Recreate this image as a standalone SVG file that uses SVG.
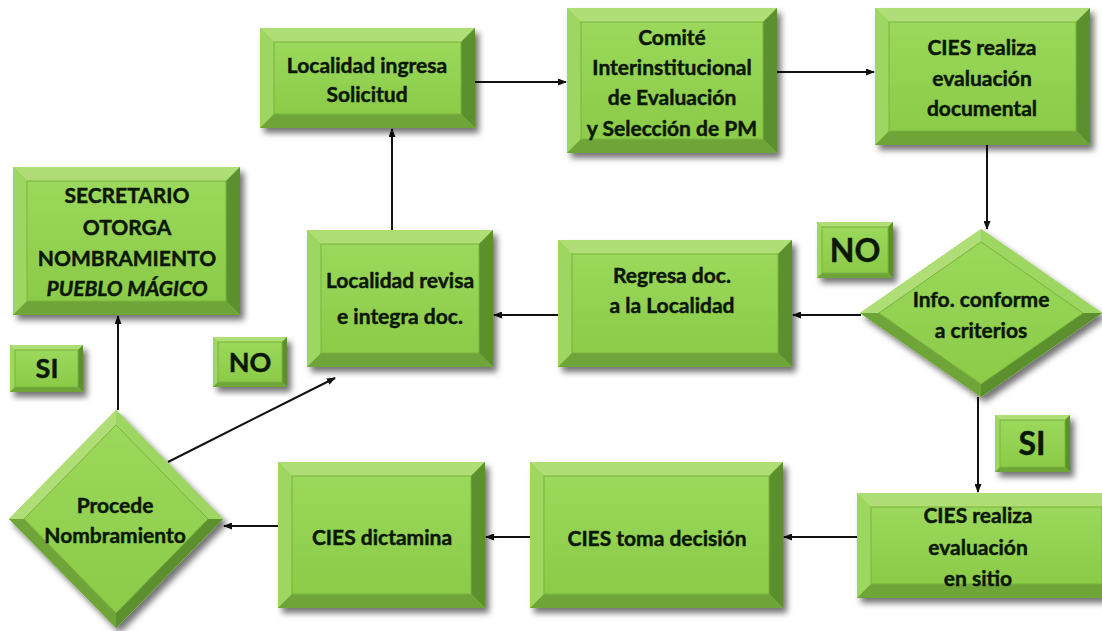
<svg xmlns="http://www.w3.org/2000/svg" width="1102" height="631" viewBox="0 0 1102 631">
<style>
.t{font-family:Lato,"Liberation Sans",sans-serif;font-weight:700;font-size:21px;fill:#0b1707;stroke:#0b1707;stroke-width:0.45px;text-anchor:middle}
.tb{font-size:27px}
.bt{fill:#aede74}
.bl{fill:#9dd661}
.br{fill:#5c8f2e}
.bb{fill:#6ea438}
.face{fill:url(#gface);stroke:#7ab43d;stroke-width:1}
.sh{filter:url(#shadow)}
.c{stroke:#111;stroke-width:2;fill:none;marker-end:url(#ah)}
</style>
<defs>
<linearGradient id="gface" x1="0" y1="0" x2="0" y2="1">
<stop offset="0" stop-color="#9bd85c"/>
<stop offset="1" stop-color="#8bcb48"/>
</linearGradient>
<filter id="shadow" x="-10%" y="-10%" width="125%" height="130%">
<feDropShadow dx="4" dy="5" stdDeviation="3" flood-color="#000" flood-opacity="0.55"/>
</filter>
<marker id="ah" markerUnits="userSpaceOnUse" markerWidth="9" markerHeight="7" refX="8" refY="3.5" orient="auto">
<path d="M0,0 L9,3.5 L0,7 z" fill="#111"/>
</marker>
</defs>
<rect width="1102" height="631" fill="#fff"/>

<g id="connectors">
<line class="c" x1="392" y1="230" x2="392" y2="129"/>
<line class="c" x1="475" y1="82" x2="566" y2="82"/>
<line class="c" x1="777" y1="72" x2="874" y2="72"/>
<line class="c" x1="987" y1="145" x2="987" y2="229"/>
<line class="c" x1="861" y1="315" x2="793" y2="315"/>
<line class="c" x1="558" y1="315" x2="494" y2="315"/>
<line class="c" x1="978" y1="397" x2="978" y2="492"/>
<line class="c" x1="857" y1="537" x2="784" y2="537"/>
<line class="c" x1="530" y1="537" x2="486" y2="537"/>
<line class="c" x1="278" y1="526" x2="224" y2="526"/>
<line class="c" x1="118" y1="410" x2="118" y2="316"/>
<line class="c" x1="168" y1="462" x2="335" y2="378"/>
</g>

<g id="n-ingresa">
<g class="sh"><rect x="260" y="28" width="215" height="100" fill="#8fcf4c"/>
<polygon class="bt" points="260,28 475,28 461,42 274,42"/><polygon class="bl" points="260,28 274,42 274,114 260,128"/><polygon class="br" points="475,28 475,128 461,114 461,42"/><polygon class="bb" points="260,128 475,128 461,114 274,114"/><rect class="face" x="274" y="42" width="187" height="72"/></g>
<text class="t"><tspan x="367" y="73">Localidad ingresa</tspan><tspan x="367" y="102">Solicitud</tspan></text>
</g>

<g id="n-comite">
<g class="sh"><rect x="567" y="8" width="210" height="145" fill="#8fcf4c"/>
<polygon class="bt" points="567,8 777,8 763,22 581,22"/><polygon class="bl" points="567,8 581,22 581,139 567,153"/><polygon class="br" points="777,8 777,153 763,139 763,22"/><polygon class="bb" points="567,153 777,153 763,139 581,139"/><rect class="face" x="581" y="22" width="182" height="117"/></g>
<text class="t"><tspan x="672" y="45">Comité</tspan><tspan x="672" y="75">Interinstitucional</tspan><tspan x="672" y="105">de Evaluación</tspan><tspan x="672" y="136">y Selección de PM</tspan></text>
</g>

<g id="n-ciesdoc">
<g class="sh"><rect x="875" y="8" width="215" height="137" fill="#8fcf4c"/>
<polygon class="bt" points="875,8 1090,8 1076,22 889,22"/><polygon class="bl" points="875,8 889,22 889,131 875,145"/><polygon class="br" points="1090,8 1090,145 1076,131 1076,22"/><polygon class="bb" points="875,145 1090,145 1076,131 889,131"/><rect class="face" x="889" y="22" width="187" height="109"/></g>
<text class="t"><tspan x="982" y="55">CIES realiza</tspan><tspan x="982" y="86">evaluación</tspan><tspan x="982" y="116">documental</tspan></text>
</g>

<g id="n-info">
<g class="sh"><polygon points="981,229 1102,313 981,397 860,313" fill="#8fcf4c"/>
<polygon class="bt" points="860,313 981,229 981,242 879,313"/><polygon class="bl" points="981,229 1102,313 1083,313 981,242"/><polygon class="br" points="1102,313 981,397 981,384 1083,313"/><polygon class="bb" points="981,397 860,313 879,313 981,384"/><polygon class="face" points="981,242 1083,313 981,384 879,313"/></g>
<text class="t"><tspan x="981" y="307">Info. conforme</tspan><tspan x="981" y="338">a criterios</tspan></text>
</g>

<g id="n-regresa">
<g class="sh"><rect x="558" y="240" width="234" height="127" fill="#8fcf4c"/>
<polygon class="bt" points="558,240 792,240 778,254 572,254"/><polygon class="bl" points="558,240 572,254 572,353 558,367"/><polygon class="br" points="792,240 792,367 778,353 778,254"/><polygon class="bb" points="558,367 792,367 778,353 572,353"/><rect class="face" x="572" y="254" width="206" height="99"/></g>
<text class="t"><tspan x="672" y="283">Regresa doc.</tspan><tspan x="672" y="313">a la Localidad</tspan></text>
</g>

<g id="n-revisa">
<g class="sh"><rect x="307" y="230" width="186" height="137" fill="#8fcf4c"/>
<polygon class="bt" points="307,230 493,230 479,244 321,244"/><polygon class="bl" points="307,230 321,244 321,353 307,367"/><polygon class="br" points="493,230 493,367 479,353 479,244"/><polygon class="bb" points="307,367 493,367 479,353 321,353"/><rect class="face" x="321" y="244" width="158" height="109"/></g>
<text class="t"><tspan x="400" y="288">Localidad revisa</tspan><tspan x="400" y="324">e integra doc.</tspan></text>
</g>

<g id="n-secretario">
<g class="sh"><rect x="13" y="167" width="227" height="148" fill="#8fcf4c"/>
<polygon class="bt" points="13,167 240,167 226,181 27,181"/><polygon class="bl" points="13,167 27,181 27,301 13,315"/><polygon class="br" points="240,167 240,315 226,301 226,181"/><polygon class="bb" points="13,315 240,315 226,301 27,301"/><rect class="face" x="27" y="181" width="199" height="120"/></g>
<text class="t"><tspan x="127" y="203">SECRETARIO</tspan><tspan x="127" y="235">OTORGA</tspan><tspan x="127" y="266">NOMBRAMIENTO</tspan><tspan x="127" y="296" font-style="italic">PUEBLO MÁGICO</tspan></text>
</g>

<g id="n-si-left">
<g class="sh"><rect x="10" y="345" width="73" height="47" fill="#8fcf4c"/>
<polygon class="bt" points="10,345 83,345 78,350 15,350"/><polygon class="bl" points="10,345 15,350 15,387 10,392"/><polygon class="br" points="83,345 83,392 78,387 78,350"/><polygon class="bb" points="10,392 83,392 78,387 15,387"/><rect class="face" x="15" y="350" width="63" height="37"/></g>
<text class="t tb" x="47" y="378">SI</text>
</g>

<g id="n-no-left">
<g class="sh"><rect x="213" y="337" width="74" height="50" fill="#8fcf4c"/>
<polygon class="bt" points="213,337 287,337 282,342 218,342"/><polygon class="bl" points="213,337 218,342 218,382 213,387"/><polygon class="br" points="287,337 287,387 282,382 282,342"/><polygon class="bb" points="213,387 287,387 282,382 218,382"/><rect class="face" x="218" y="342" width="64" height="40"/></g>
<text class="t tb" x="250" y="372">NO</text>
</g>

<g id="n-no-right">
<g class="sh"><rect x="817" y="222" width="76" height="56" fill="#8fcf4c"/>
<polygon class="bt" points="817,222 893,222 888,227 822,227"/><polygon class="bl" points="817,222 822,227 822,273 817,278"/><polygon class="br" points="893,222 893,278 888,273 888,227"/><polygon class="bb" points="817,278 893,278 888,273 822,273"/><rect class="face" x="822" y="227" width="66" height="46"/></g>
<text class="t tb" x="855" y="262" style="font-size:32px">NO</text>
</g>

<g id="n-si-right">
<g class="sh"><rect x="995" y="415" width="75" height="57" fill="#8fcf4c"/>
<polygon class="bt" points="995,415 1070,415 1065,420 1000,420"/><polygon class="bl" points="995,415 1000,420 1000,467 995,472"/><polygon class="br" points="1070,415 1070,472 1065,467 1065,420"/><polygon class="bb" points="995,472 1070,472 1065,467 1000,467"/><rect class="face" x="1000" y="420" width="65" height="47"/></g>
<text class="t tb" x="1032" y="455" style="font-size:32px">SI</text>
</g>

<g id="n-sitio">
<g class="sh"><rect x="857" y="493" width="259" height="105" fill="#8fcf4c"/>
<polygon class="bt" points="857,493 1116,493 1102,507 871,507"/><polygon class="bl" points="857,493 871,507 871,584 857,598"/><polygon class="br" points="1116,493 1116,598 1102,584 1102,507"/><polygon class="bb" points="857,598 1116,598 1102,584 871,584"/><rect class="face" x="871" y="507" width="231" height="77"/></g>
<text class="t"><tspan x="978" y="523">CIES realiza</tspan><tspan x="978" y="555">evaluación</tspan><tspan x="978" y="586">en sitio</tspan></text>
</g>

<g id="n-toma">
<g class="sh"><rect x="530" y="462" width="253" height="146" fill="#8fcf4c"/>
<polygon class="bt" points="530,462 783,462 769,476 544,476"/><polygon class="bl" points="530,462 544,476 544,594 530,608"/><polygon class="br" points="783,462 783,608 769,594 769,476"/><polygon class="bb" points="530,608 783,608 769,594 544,594"/><rect class="face" x="544" y="476" width="225" height="118"/></g>
<text class="t" x="657" y="546">CIES toma decisión</text>
</g>

<g id="n-dictamina">
<g class="sh"><rect x="278" y="462" width="207" height="146" fill="#8fcf4c"/>
<polygon class="bt" points="278,462 485,462 471,476 292,476"/><polygon class="bl" points="278,462 292,476 292,594 278,608"/><polygon class="br" points="485,462 485,608 471,594 471,476"/><polygon class="bb" points="278,608 485,608 471,594 292,594"/><rect class="face" x="292" y="476" width="179" height="118"/></g>
<text class="t" x="382" y="545">CIES dictamina</text>
</g>

<g id="n-procede">
<g class="sh"><polygon points="116,410 223,519 116,628 9,519" fill="#8fcf4c"/>
<polygon class="bt" points="9,519 116,410 116,425 24,519"/><polygon class="bl" points="116,410 223,519 208,519 116,425"/><polygon class="br" points="223,519 116,628 116,613 208,519"/><polygon class="bb" points="116,628 9,519 24,519 116,613"/><polygon class="face" points="116,425 208,519 116,613 24,519"/></g>
<text class="t"><tspan x="115" y="513">Procede</tspan><tspan x="115" y="543">Nombramiento</tspan></text>
</g>
</svg>
